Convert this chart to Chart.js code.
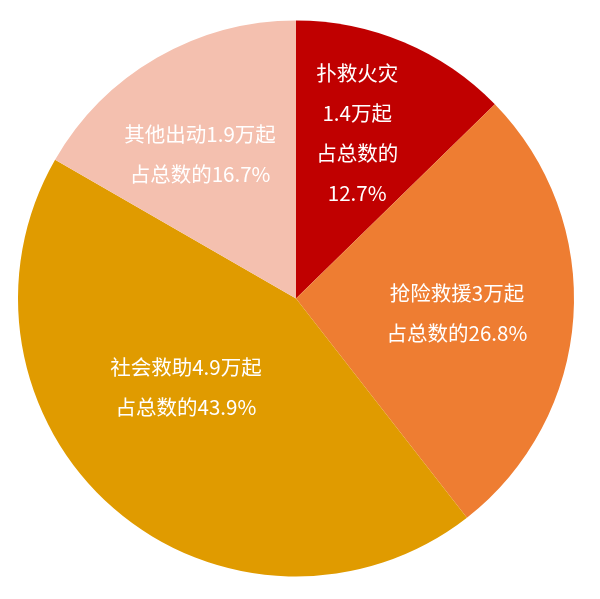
<!DOCTYPE html>
<html>
<head>
<meta charset="utf-8">
<script src="https://cdn.jsdelivr.net/npm/chart.js@4/dist/chart.umd.min.js"></script>
<style>
  html, body { margin: 0; padding: 0; background: #fff; }
  #wrap { width: 600px; height: 599px; }
</style>
</head>
<body>
<div id="wrap"><canvas id="c"></canvas></div>
<script>
// data
const categories = ['扑救火灾', '抢险救援', '社会救助', '其他出动'];
const counts = ['1.4', '3', '4.9', '1.9'];   // 万起
const shares = [12.7, 26.8, 43.9, 16.7];     // 占总数 %
const colors = ['#C00000', '#EE7D32', '#E09B00', '#F4C0AF'];

// label lines per slice
const labelLines = [
  [categories[0], counts[0] + '万起', '占总数的', shares[0] + '%'],
  [categories[1] + counts[1] + '万起', '占总数的' + shares[1] + '%'],
  [categories[2] + counts[2] + '万起', '占总数的' + shares[2] + '%'],
  [categories[3] + counts[3] + '万起', '占总数的' + shares[3] + '%']
];
// where each label sits: offset from pie centre in radius units
const labelSpots = [[0.22, -0.595], [0.579, 0.052], [-0.396, 0.32], [-0.345, -0.52]];

const sliceLabels = {
  id: 'sliceLabels',
  afterDatasetsDraw(chart) {
    const arc = chart.getDatasetMeta(0).data[0];
    const cx = arc.x, cy = arc.y, r = arc.outerRadius;
    const ctx = chart.ctx;
    ctx.save();
    ctx.fillStyle = '#fff';
    ctx.font = '20.5px "Noto Sans CJK SC", "Noto Sans", sans-serif';
    ctx.textAlign = 'center';
    ctx.textBaseline = 'middle';
    const lh = 40;
    labelLines.forEach((lines, i) => {
      const x = cx + labelSpots[i][0] * r;
      const y = cy + labelSpots[i][1] * r;
      const top = y - (lines.length - 1) * lh / 2;
      lines.forEach((t, j) => ctx.fillText(t, x, top + j * lh));
    });
    ctx.restore();
  }
};

new Chart(document.getElementById('c'), {
  type: 'pie',
  data: {
    labels: categories,
    datasets: [{
      data: shares,
      backgroundColor: colors,
      borderWidth: 0
    }]
  },
  options: {
    responsive: true,
    maintainAspectRatio: false,
    animation: false,
    layout: { padding: { left: 18, right: 26, top: 20, bottom: 22 } },
    plugins: {
      legend: { display: false },
      tooltip: { enabled: false }
    }
  },
  plugins: [sliceLabels]
});
</script>
</body>
</html>
